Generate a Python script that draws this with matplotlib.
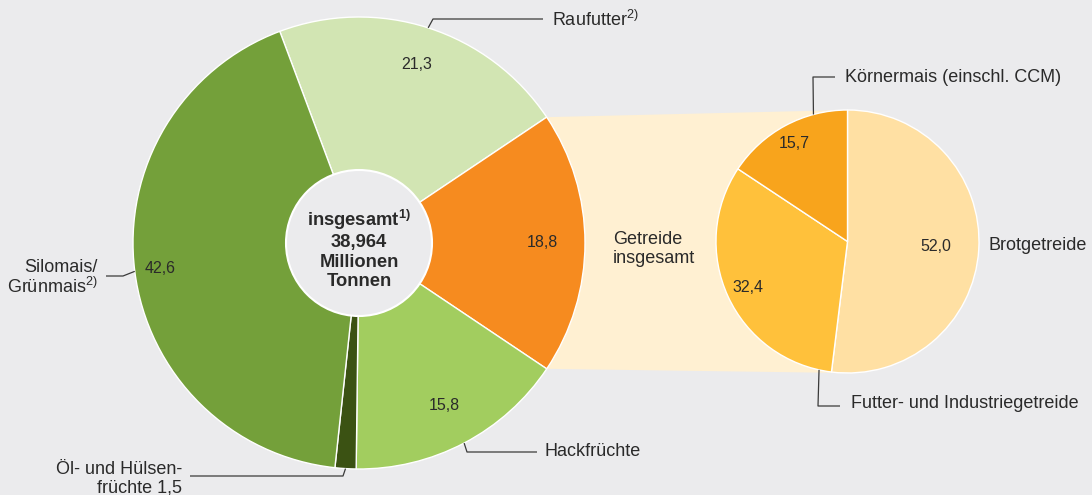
import matplotlib
matplotlib.use("Agg")
import matplotlib.pyplot as plt
import numpy as np
from matplotlib.patches import Circle, Polygon

plt.rcParams["font.family"] = "Liberation Sans"
plt.rcParams["mathtext.fontset"] = "custom"
plt.rcParams["mathtext.rm"] = "Liberation Sans"
plt.rcParams["mathtext.bf"] = "Liberation Sans:bold"
plt.rcParams["mathtext.default"] = "regular"

# Futteraufkommen nach Futterart, Anteile in %
categories = ["Raufutter$^{2)}$", "Getreide\ninsgesamt", "Hackfrüchte",
              "Öl- und Hülsen-\nfrüchte 1,5", "Silomais/\nGrünmais$^{2)}$"]
shares = [21.3, 18.8, 15.8, 1.5, 42.6]
colors = ["#d2e5b3", "#f68b1f", "#a2cd5f", "#3b5213", "#74a03a"]

grain_categories = ["Brotgetreide", "Futter- und Industriegetreide",
                    "Körnermais (einschl. CCM)"]
grain_shares = [52.0, 32.4, 15.7]
grain_colors = ["#ffe0a3", "#ffc13b", "#f8a41c"]

total_label = "insgesamt$^{\\mathbf{1)}}$\n38,964\nMillionen\nTonnen"

BG = "#ebebed"
TXT = "#2a2a2a"
W, H = 1092, 495


def Y(y):
    # layout helper: pixel row from top -> data y
    return H - y


def fmt(v):
    return f"{v:.1f}".replace(".", ",")


def edge(w, ang=None):
    a = np.deg2rad((w.theta1 + w.theta2) / 2 if ang is None else ang)
    cx, cy = w.center
    return cx + w.r * np.cos(a), cy + w.r * np.sin(a)


fig = plt.figure(figsize=(W / 100, H / 100), dpi=100, facecolor=BG)
ax = fig.add_axes([0, 0, 1, 1])
ax.set_facecolor(BG)

c_main, r_main = (359, Y(243)), 226
c_grain, r_grain = (847.5, Y(241.5)), 131.5

start = shares[0] * 3.6 + shares[1] * 1.8
wedges, _ = ax.pie(shares, colors=colors, startangle=start, counterclock=False,
                   center=c_main, radius=r_main, frame=True,
                   wedgeprops=dict(edgecolor="white", linewidth=1))
gwedges, _ = ax.pie(grain_shares, colors=grain_colors, startangle=90,
                    counterclock=False, center=c_grain, radius=r_grain,
                    frame=True, wedgeprops=dict(edgecolor="white", linewidth=1))

# connector band from the grain slice to the breakdown pie
g = wedges[1]
p1 = edge(g, g.theta2)
p2 = edge(g, g.theta1)
band = Polygon([p1, (c_grain[0], c_grain[1] + r_grain),
                (c_grain[0], c_grain[1] - r_grain), p2],
               closed=True, facecolor="#fff0d2", edgecolor="none", zorder=0)
ax.add_patch(band)

# value labels
dist = [0.83, 0.81, 0.81, None, 0.885]
for w, v, d in zip(wedges, shares, dist):
    if d is None:
        continue
    a = np.deg2rad((w.theta1 + w.theta2) / 2)
    ax.text(c_main[0] + d * r_main * np.cos(a), c_main[1] + d * r_main * np.sin(a),
            fmt(v), ha="center", va="center", fontsize=11.5, color=TXT)
gdist = [0.67, 0.83, 0.85]
for w, v, d in zip(gwedges, grain_shares, gdist):
    a = np.deg2rad((w.theta1 + w.theta2) / 2)
    ax.text(c_grain[0] + d * r_grain * np.cos(a), c_grain[1] + d * r_grain * np.sin(a),
            fmt(v), ha="center", va="center", fontsize=11.5, color=TXT)

# centre disc
ax.add_patch(Circle(c_main, 73, facecolor=BG, edgecolor="white", linewidth=1.5, zorder=3))
ax.text(c_main[0], Y(249), total_label, ha="center", va="center", fontsize=13.2,
        fontweight="bold", color=TXT, linespacing=1.2, zorder=4)


def leader(start_pt, pts):
    xs = [start_pt[0]] + [p[0] for p in pts]
    ys = [start_pt[1]] + [Y(p[1]) for p in pts]
    ax.plot(xs, ys, color="#3a3a3a", linewidth=0.9, solid_capstyle="butt", zorder=5)


lab = dict(fontsize=13, color=TXT, va="center")

# Raufutter
leader(edge(wedges[0]), [(433, 19), (543, 19)])
ax.text(552, Y(20), categories[0], ha="left", **lab)
# Getreide insgesamt
ax.text(613, Y(249), categories[1], ha="left", multialignment="left",
        linespacing=1.1, **lab)
# Hackfrüchte
leader(edge(wedges[2]), [(467, 452), (537, 452)])
ax.text(545, Y(452), categories[2], ha="left", **lab)
# Öl- und Hülsenfrüchte
leader(edge(wedges[3]), [(343, 476), (190, 476)])
ax.text(182, Y(479), categories[3], ha="right", multialignment="right",
        linespacing=1.1, **lab)
# Silomais
leader(edge(wedges[4]), [(123, 276), (106, 276)])
ax.text(98, Y(278), categories[4], ha="right", multialignment="right",
        linespacing=1.1, **lab)

# grain breakdown labels
ax.text(988, Y(246), grain_categories[0], ha="left", **lab)
leader(edge(gwedges[1], -102.5), [(818, 406), (840, 406)])
ax.text(851, Y(404), grain_categories[1], ha="left", **lab)
leader(edge(gwedges[2], 105), [(813, 77), (835, 77)])
ax.text(845, Y(77), grain_categories[2], ha="left", **lab)

ax.set_xlim(0, W)
ax.set_ylim(0, H)
ax.set_aspect("auto")
ax.axis("off")

fig.savefig("out.png", dpi=100, facecolor=BG)
